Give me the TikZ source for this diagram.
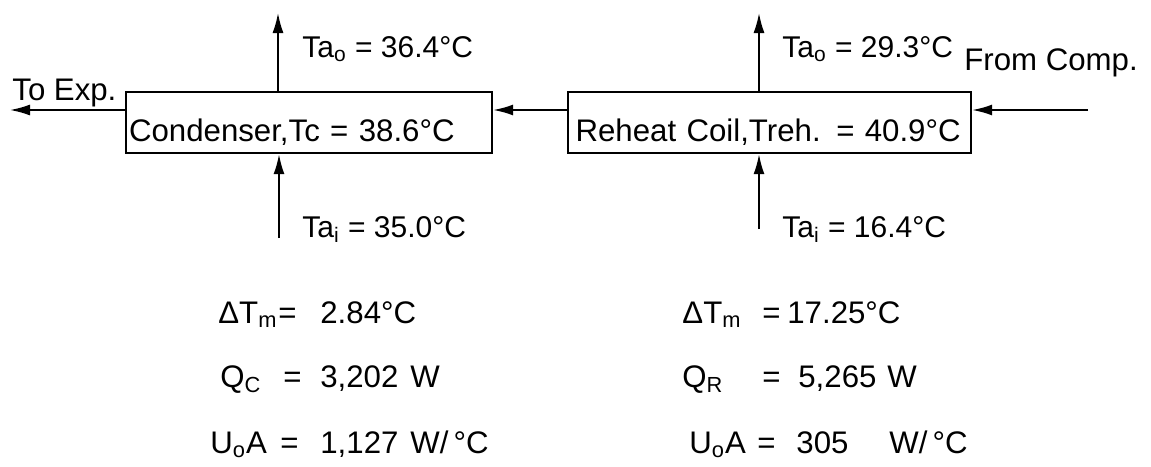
\documentclass[tikz,border=0pt]{standalone}
\usepackage{fontspec}
\setmainfont{Liberation Sans}
\usetikzlibrary{arrows.meta}
\tikzset{
  every node/.style={font=\fontsize{15.6}{18}\selectfont, inner sep=0pt},
  txt/.style={anchor=base west},
  airtxt/.style={anchor=base west, font=\fontsize{15}{18}\selectfont},
  coil/.style={draw, line width=1.1pt, anchor=north west, inner ysep=0pt,
    text height=24.5pt, text depth=6pt, align=left},
  arr/.style={line width=0.9pt, -{Latex[length=10pt,width=5.5pt]}}
}
\begin{document}
\begin{tikzpicture}[x=0.5pt,y=-0.5pt]
\useasboundingbox[fill=white] (0,0) rectangle (1151,466);
% boxes
\node[coil, text width=180pt, inner xsep=1.5pt] (cond) at (125,91) {Condenser,Tc = 38.6°C};
\node[coil, text width=194pt, inner xsep=3.75pt] (reh) at (567,91) {Reheat Coil,Treh. = 40.9°C};
% free ends
\coordinate (toexp) at (10,110);
\coordinate (fromcomp) at (1088,110);
\coordinate (condout) at (278,13);
\coordinate (condin) at (279,238);
\coordinate (rehout) at (759,13);
\coordinate (rehin) at (759,229);
% refrigerant flow
\draw[arr] ([yshift=-9.5pt]cond.north west) -- (toexp);
\draw[arr] ([yshift=-9.5pt]reh.north west) -- ([yshift=-9.5pt]cond.north east);
\draw[arr] (fromcomp) -- ([yshift=-9.5pt]reh.north east);
% air flow
\draw[arr] (cond.north west -| condout) -- (condout);
\draw[arr] (condin) -- (condin |- cond.south);
\draw[arr] (reh.north west -| rehout) -- (rehout);
\draw[arr] (rehin) -- (rehin |- reh.south);
% labels
\node[txt] (lexp) at (12,100) {To Exp.};
\node[txt] (lcomp) at (964,70) {From Comp.};
\node[airtxt] (lcao) at (302,57) {Ta\textsubscript{o} = 36.4°C};
\node[airtxt] (lrao) at (782,57) {Ta\textsubscript{o} = 29.3°C};
\node[airtxt] (lcai) at (302,237) {Ta\textsubscript{i} = 35.0°C};
\node[airtxt] (lrai) at (782,237) {Ta\textsubscript{i} = 16.4°C};
% results, condenser
\node[txt] (cdt) at (218,323) {\makebox[30pt][l]{ΔT\textsubscript{m}}\makebox[21pt][l]{=}2.84°C};
\node[txt] (cq) at (220,387) {\makebox[31.5pt][l]{Q\textsubscript{C}}\makebox[18.5pt][l]{=}\makebox[45pt][l]{3,202}W};
\node[txt] (cua) at (210,453) {\makebox[35pt][l]{U\textsubscript{o}A}\makebox[20pt][l]{=}\makebox[45pt][l]{1,127}W/\,°C};
% results, reheat coil
\node[txt] (rdt) at (682,323) {\makebox[40pt][l]{ΔT\textsubscript{m}}\makebox[12.5pt][l]{=}17.25°C};
\node[txt] (rq) at (682,387) {\makebox[40pt][l]{Q\textsubscript{R}}\makebox[18pt][l]{=}\makebox[44.5pt][l]{5,265}W};
\node[txt] (rua) at (689,453) {\makebox[34pt][l]{U\textsubscript{o}A}\makebox[19.5pt][l]{=}\makebox[46.5pt][l]{305}W/\,°C};
\end{tikzpicture}
\end{document}
